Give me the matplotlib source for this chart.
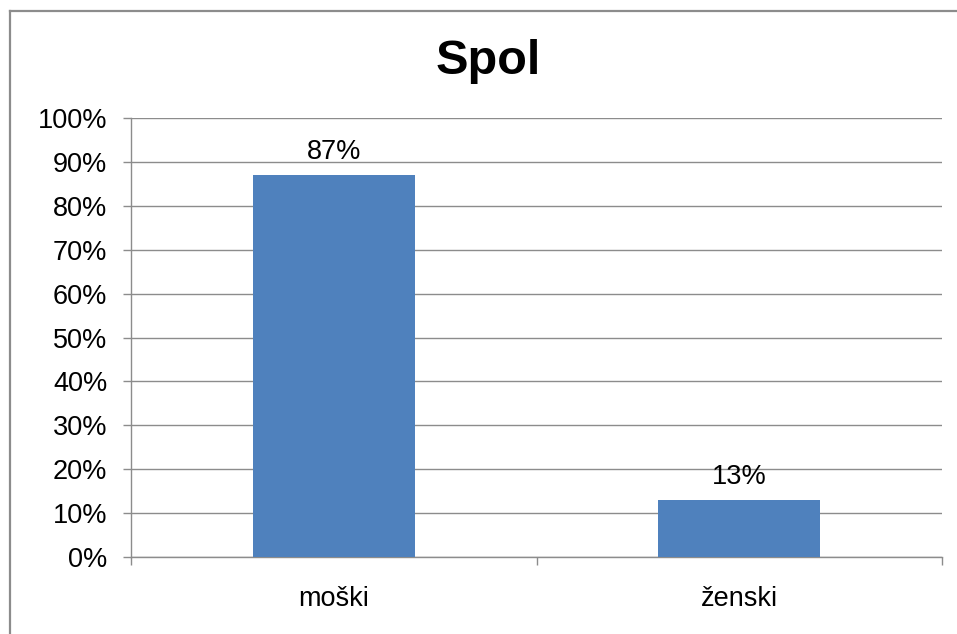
import matplotlib.pyplot as plt
from matplotlib.lines import Line2D
from matplotlib.ticker import FuncFormatter

categories = ["moški", "ženski"]
shares = [87, 13]
title = "Spol"

plt.rcParams["font.family"] = ["Liberation Sans", "DejaVu Sans"]

BAR = "#4F81BD"
GRID = "#8C8C8C"
FS = 19.5

fig = plt.figure(figsize=(9.57, 6.34), dpi=100)
ax = fig.add_axes([131 / 957, 77 / 634, 811 / 957, 439 / 634])

x = range(len(categories))
bars = ax.bar(x, shares, width=0.4, color=BAR, zorder=3)
for b, v in zip(bars, shares):
    ax.annotate(f"{v}%", (b.get_x() + b.get_width() / 2, v),
                xytext=(0, 7), textcoords="offset points",
                ha="center", va="bottom", fontsize=FS)

ax.set_xlim(-0.5, 1.5)
ax.set_ylim(0, 100)
ax.set_yticks(range(0, 101, 10))
ax.yaxis.set_major_formatter(FuncFormatter(lambda v, _: f"{v:.0f}%"))
ax.grid(axis="y", color=GRID, linewidth=1, zorder=0)

ax.set_xticks(list(x))
ax.set_xticklabels(categories, fontsize=FS)
ax.set_xticks([-0.5, 0.5, 1.5], minor=True)
ax.tick_params(axis="x", which="major", length=0, pad=21)
ax.tick_params(axis="x", which="minor", length=6, color=GRID, width=1)
ax.tick_params(axis="y", length=6, color=GRID, width=1, pad=11, labelsize=FS)

for side in ("top", "right"):
    ax.spines[side].set_visible(False)
for side in ("left", "bottom"):
    ax.spines[side].set_color(GRID)
    ax.spines[side].set_linewidth(1)

fig.text(0.51, 1 - 62 / 634, title, ha="center", va="center",
         fontsize=35, fontweight="bold")

# chart frame (only left and top edges are in view)
fx, fy = 9.5 / 957, 1 - 10.5 / 634
fig.add_artist(Line2D([fx, fx], [0, fy], transform=fig.transFigure,
                      color="#8C8C8C", linewidth=1.6))
fig.add_artist(Line2D([fx, 1], [fy, fy], transform=fig.transFigure,
                      color="#8C8C8C", linewidth=1.6))

fig.savefig("out.png", dpi=100)
